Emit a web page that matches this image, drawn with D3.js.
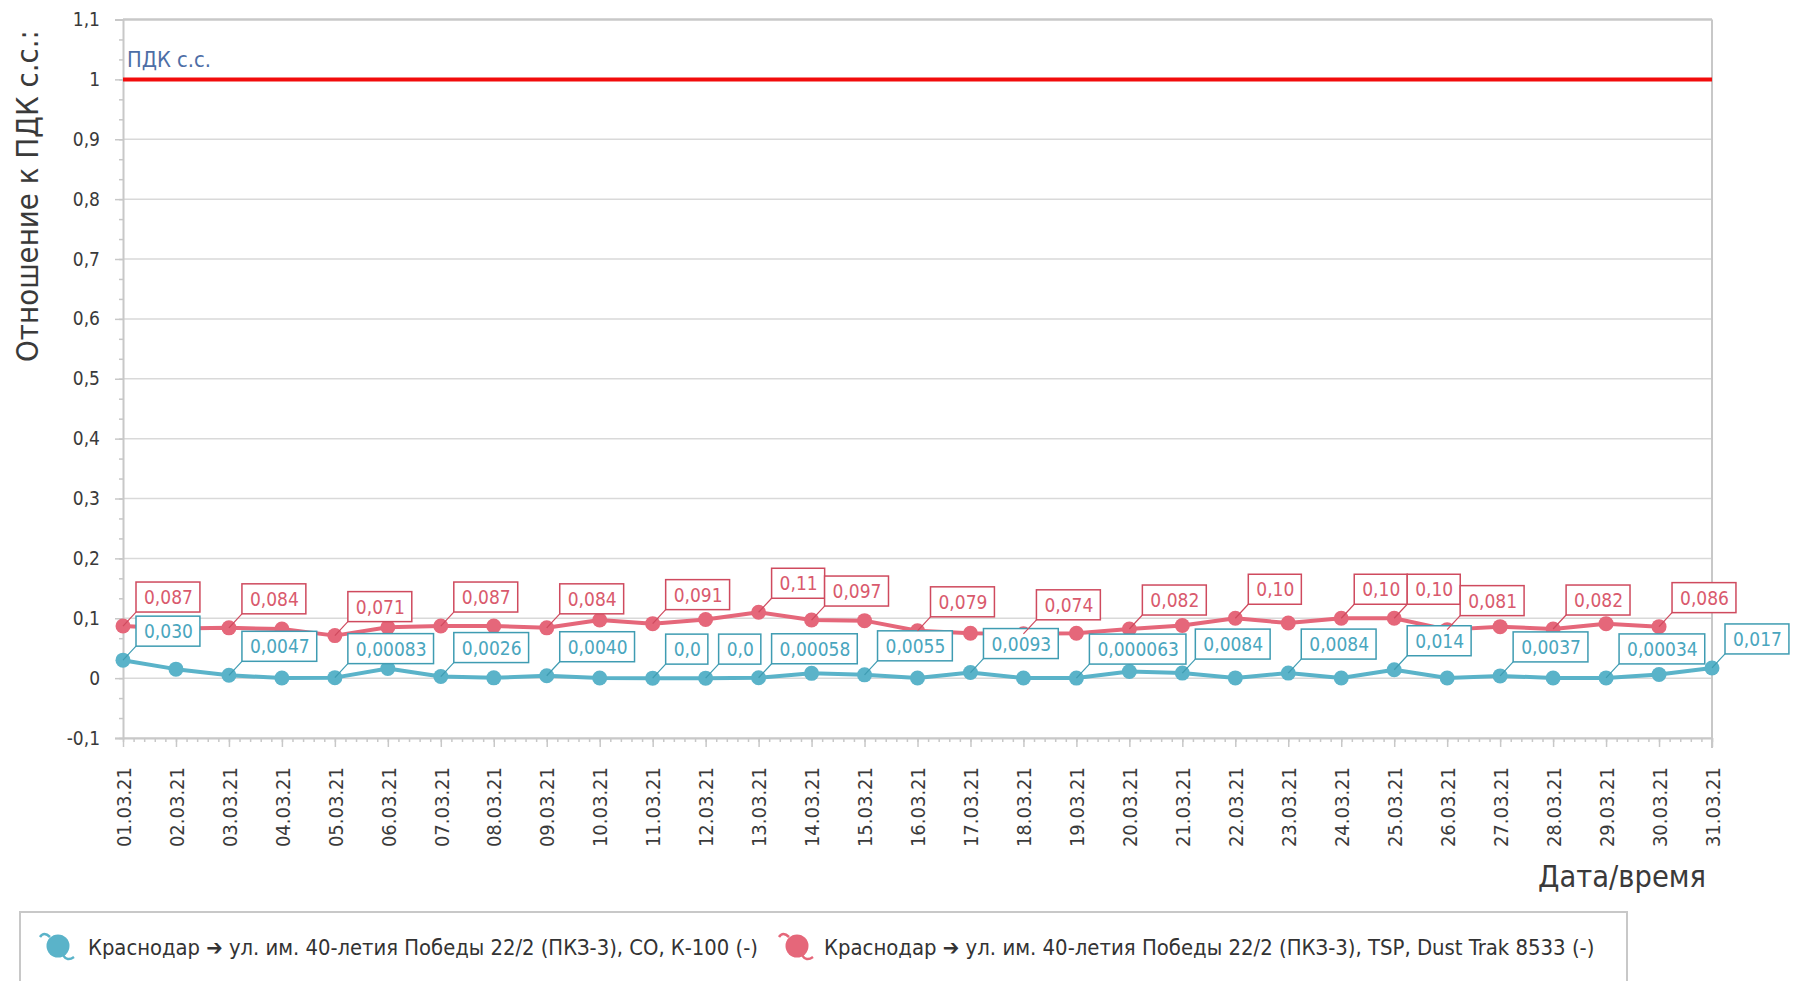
<!DOCTYPE html>
<html><head><meta charset="utf-8">
<script src="https://cdn.jsdelivr.net/npm/d3@7"></script>
<style>
html,body{margin:0;padding:0;background:#fff;}
svg{display:block;}
text{font-family:"DejaVu Sans Condensed","DejaVu Sans",sans-serif;font-stretch:condensed;}
</style></head>
<body><svg id="c" width="1800" height="981"></svg>
<script>
const dates = ["01.03.21","02.03.21","03.03.21","04.03.21","05.03.21","06.03.21","07.03.21","08.03.21","09.03.21","10.03.21","11.03.21","12.03.21","13.03.21","14.03.21","15.03.21","16.03.21","17.03.21","18.03.21","19.03.21","20.03.21","21.03.21","22.03.21","23.03.21","24.03.21","25.03.21","26.03.21","27.03.21","28.03.21","29.03.21","30.03.21","31.03.21"];
const coValues = [0.030,0.015,0.0047,0.0002,0.00083,0.016,0.0026,0.0005,0.0040,0.0003,0.0,0.0,0.00058,0.008,0.0055,0.0002,0.0093,0.0001,0.000063,0.011,0.0084,0.0004,0.0084,0.0002,0.014,0.0003,0.0037,0.0002,0.00034,0.006,0.017];
const coLabels = ["0,030",null,"0,0047",null,"0,00083",null,"0,0026",null,"0,0040",null,"0,0","0,0","0,00058",null,"0,0055",null,"0,0093",null,"0,000063",null,"0,0084",null,"0,0084",null,"0,014",null,"0,0037",null,"0,00034",null,"0,017"];
const tspValues = [0.087,0.083,0.084,0.082,0.071,0.085,0.087,0.087,0.084,0.097,0.091,0.098,0.11,0.097,0.096,0.079,0.075,0.074,0.075,0.082,0.088,0.10,0.092,0.10,0.10,0.081,0.086,0.082,0.091,0.086];
const tspLabels = ["0,087",null,"0,084",null,"0,071",null,"0,087",null,"0,084",null,"0,091",null,"0,11","0,097",null,"0,079",null,"0,074",null,"0,082",null,"0,10",null,"0,10","0,10","0,081",null,"0,082",null,"0,086"];
const yTicks = [-0.1,0,0.1,0.2,0.3,0.4,0.5,0.6,0.7,0.8,0.9,1,1.1];
const pdkValue = 1;
const pdkLabel = "ПДК с.с.";
const yTitle = "Отношение к ПДК с.с.:";
const xTitle = "Дата/время";
const seriesNames = ["Краснодар ➔ ул. им. 40-летия Победы 22/2 (ПКЗ-3), CO, К-100 (-)","Краснодар ➔ ул. им. 40-летия Победы 22/2 (ПКЗ-3), TSP, Dust Trak 8533 (-)"];

const C = {blue:"#5ab3c9", blueDark:"#3f9cb2", blueText:"#4aa6be", red:"#e5677a", redDark:"#cf4a5e", redText:"#d95a6d", grid:"#d9d9d9", frame:"#c8c8c8", text:"#3a3a3a"};
const L = 123, R = 1712, T = 19.5, B = 738;

const svg = d3.select("#c");
const loc = d3.formatLocale({decimal:",",thousands:" ",grouping:[3],currency:["",""],minus:"-"});
const fmt = loc.format("~g");

const xi = d3.scaleLinear().domain([0, dates.length-1]).range([L, R]);
const xp = d3.scalePoint().domain(dates).range([L, R]);
const y = d3.scaleLinear().domain([-0.1, 1.1]).range([B, T]);

function fit(sel, target, base){ sel.style("font-size", base+"px"); const w = sel.node().getComputedTextLength(); sel.style("font-size", (base*target/w)+"px"); return sel; }

// grid
svg.append("g").selectAll("line").data(yTicks).join("line")
  .attr("x1", L).attr("x2", R).attr("y1", d=>y(d)).attr("y2", d=>y(d))
  .attr("stroke", (d,i)=> i===yTicks.length-1 ? C.frame : C.grid).attr("stroke-width", (d,i)=> i===yTicks.length-1 ? 2.5 : 1.5);

// right frame
svg.append("line").attr("x1", R).attr("x2", R).attr("y1", T).attr("y2", B+10).attr("stroke", C.frame).attr("stroke-width", 2);

// y axis
const yMinor = d3.range(-0.1, 1.1, 0.1/3).map(v=>+v.toFixed(5));
svg.append("g").attr("transform", `translate(${L},0)`)
  .call(d3.axisLeft(y).tickValues(yMinor).tickSize(4).tickFormat(""))
  .call(g=>{g.select(".domain").remove(); g.selectAll("line").attr("stroke", C.frame).attr("stroke-width",1.5);});
svg.append("g").attr("transform", `translate(${L},0)`)
  .call(d3.axisLeft(y).tickValues(yTicks).tickSize(8).tickPadding(15).tickFormat(fmt))
  .call(g=>{g.select(".domain").attr("stroke", C.frame).attr("stroke-width",2);
    g.selectAll("line").attr("stroke", C.frame).attr("stroke-width",1.5);
    g.selectAll("text").attr("fill", C.text).style("font-size","19px");});

// x axis
const xMinor = d3.range(0, (dates.length-1)*5+1).map(k=>k/5);
svg.append("g").attr("transform", `translate(0,${B})`)
  .call(d3.axisBottom(xi).tickValues(xMinor).tickSize(4).tickFormat(""))
  .call(g=>{g.select(".domain").remove(); g.selectAll("line").attr("stroke", C.frame).attr("stroke-width",1.5);});
svg.append("g").attr("transform", `translate(0,${B})`)
  .call(d3.axisBottom(xp).tickSize(9).tickSizeOuter(0))
  .call(g=>{g.select(".domain").attr("stroke", C.frame).attr("stroke-width",2);
    g.selectAll("line").attr("stroke", C.frame).attr("stroke-width",1.5);
    g.selectAll("text").attr("fill", C.text).style("font-size","20px")
     .attr("transform","rotate(-90)").attr("x", -29).attr("y", 0).attr("dy","0.36em").style("text-anchor","end");});

// titles
const yt = svg.append("text").attr("transform", `translate(38,362) rotate(-90)`).attr("fill", C.text).text(yTitle);
fit(yt, 332, 28);
const xt = svg.append("text").attr("x", 1706).attr("y", 887).attr("text-anchor","end").attr("fill", C.text).text(xTitle);
fit(xt, 168, 26);

// PDK line
svg.append("line").attr("x1", L).attr("x2", R).attr("y1", y(pdkValue)).attr("y2", y(pdkValue)).attr("stroke", "#f20c0c").attr("stroke-width", 4);
const pl = svg.append("text").attr("x", 127).attr("y", y(pdkValue)-12).attr("fill", "#4d6ea6").text(pdkLabel);
fit(pl, 84, 18);

// series
const series = [
  {values: coValues, labels: coLabels, color: C.blue, dark: C.blueDark, tcol: C.blueText},
  {values: tspValues, labels: tspLabels, color: C.red, dark: C.redDark, tcol: C.redText}
];
const line = d3.line().x((d,i)=>xi(i)).y(d=>y(d));
series.forEach(s=>{
  svg.append("path").datum(s.values).attr("d", line).attr("fill","none").attr("stroke", s.color).attr("stroke-width", 4).attr("stroke-linejoin","round");
  svg.append("g").selectAll("circle").data(s.values).join("circle")
    .attr("cx", (d,i)=>xi(i)).attr("cy", d=>y(d)).attr("r", 7.5).attr("fill", s.color);
});
// labels
series.forEach(s=>{
  const lab = s.values.map((v,i)=>({v,i,t:s.labels[i]})).filter(d=>d.t!==null);
  const g = svg.append("g").selectAll("g").data(lab).join("g");
  g.append("line").attr("x1", d=>xi(d.i)).attr("y1", d=>y(d.v)).attr("x2", d=>xi(d.i)+13).attr("y2", d=>y(d.v)-14)
    .attr("stroke", s.dark).attr("stroke-width", 1.2);
  const rect = g.append("rect").attr("fill","#fff").attr("stroke", s.dark).attr("stroke-width",1.5);
  const txt = g.append("text").attr("x", d=>xi(d.i)+13+8).attr("y", d=>y(d.v)-14-8).attr("fill", s.tcol).style("font-size","19px").text(d=>d.t);
  txt.each(function(d){ d.w = this.getComputedTextLength(); });
  rect.attr("x", d=>xi(d.i)+13).attr("y", d=>y(d.v)-14-30).attr("width", d=>d.w+15).attr("height", 30);
});

// legend
svg.append("rect").attr("x", 20).attr("y", 912).attr("width", 1607).attr("height", 100).attr("fill","#fff").attr("stroke", C.frame).attr("stroke-width", 2);
const legItems = [{x:58, tx:88, tw:670}, {x:797, tx:824, tw:771}];
const lg = svg.append("g").selectAll("g").data(seriesNames).join("g");
lg.each(function(name, i){
  const g = d3.select(this), it = legItems[i], col = series[i].color, cy = 946;
  g.append("path").attr("d", `M${it.x-18},${cy-9} Q${it.x-14},${cy-15} ${it.x-8},${cy-9}`).attr("fill","none").attr("stroke", col).attr("stroke-width", 2.5);
  g.append("path").attr("d", `M${it.x+5},${cy+9} Q${it.x+9},${cy+16} ${it.x+16},${cy+11}`).attr("fill","none").attr("stroke", col).attr("stroke-width", 2.5);
  g.append("circle").attr("cx", it.x).attr("cy", cy).attr("r", 11.5).attr("fill", col);
  const t = g.append("text").attr("x", it.tx).attr("y", 955).attr("fill", "#333").text(name);
  fit(t, it.tw, 19);
});
</script></body></html>
